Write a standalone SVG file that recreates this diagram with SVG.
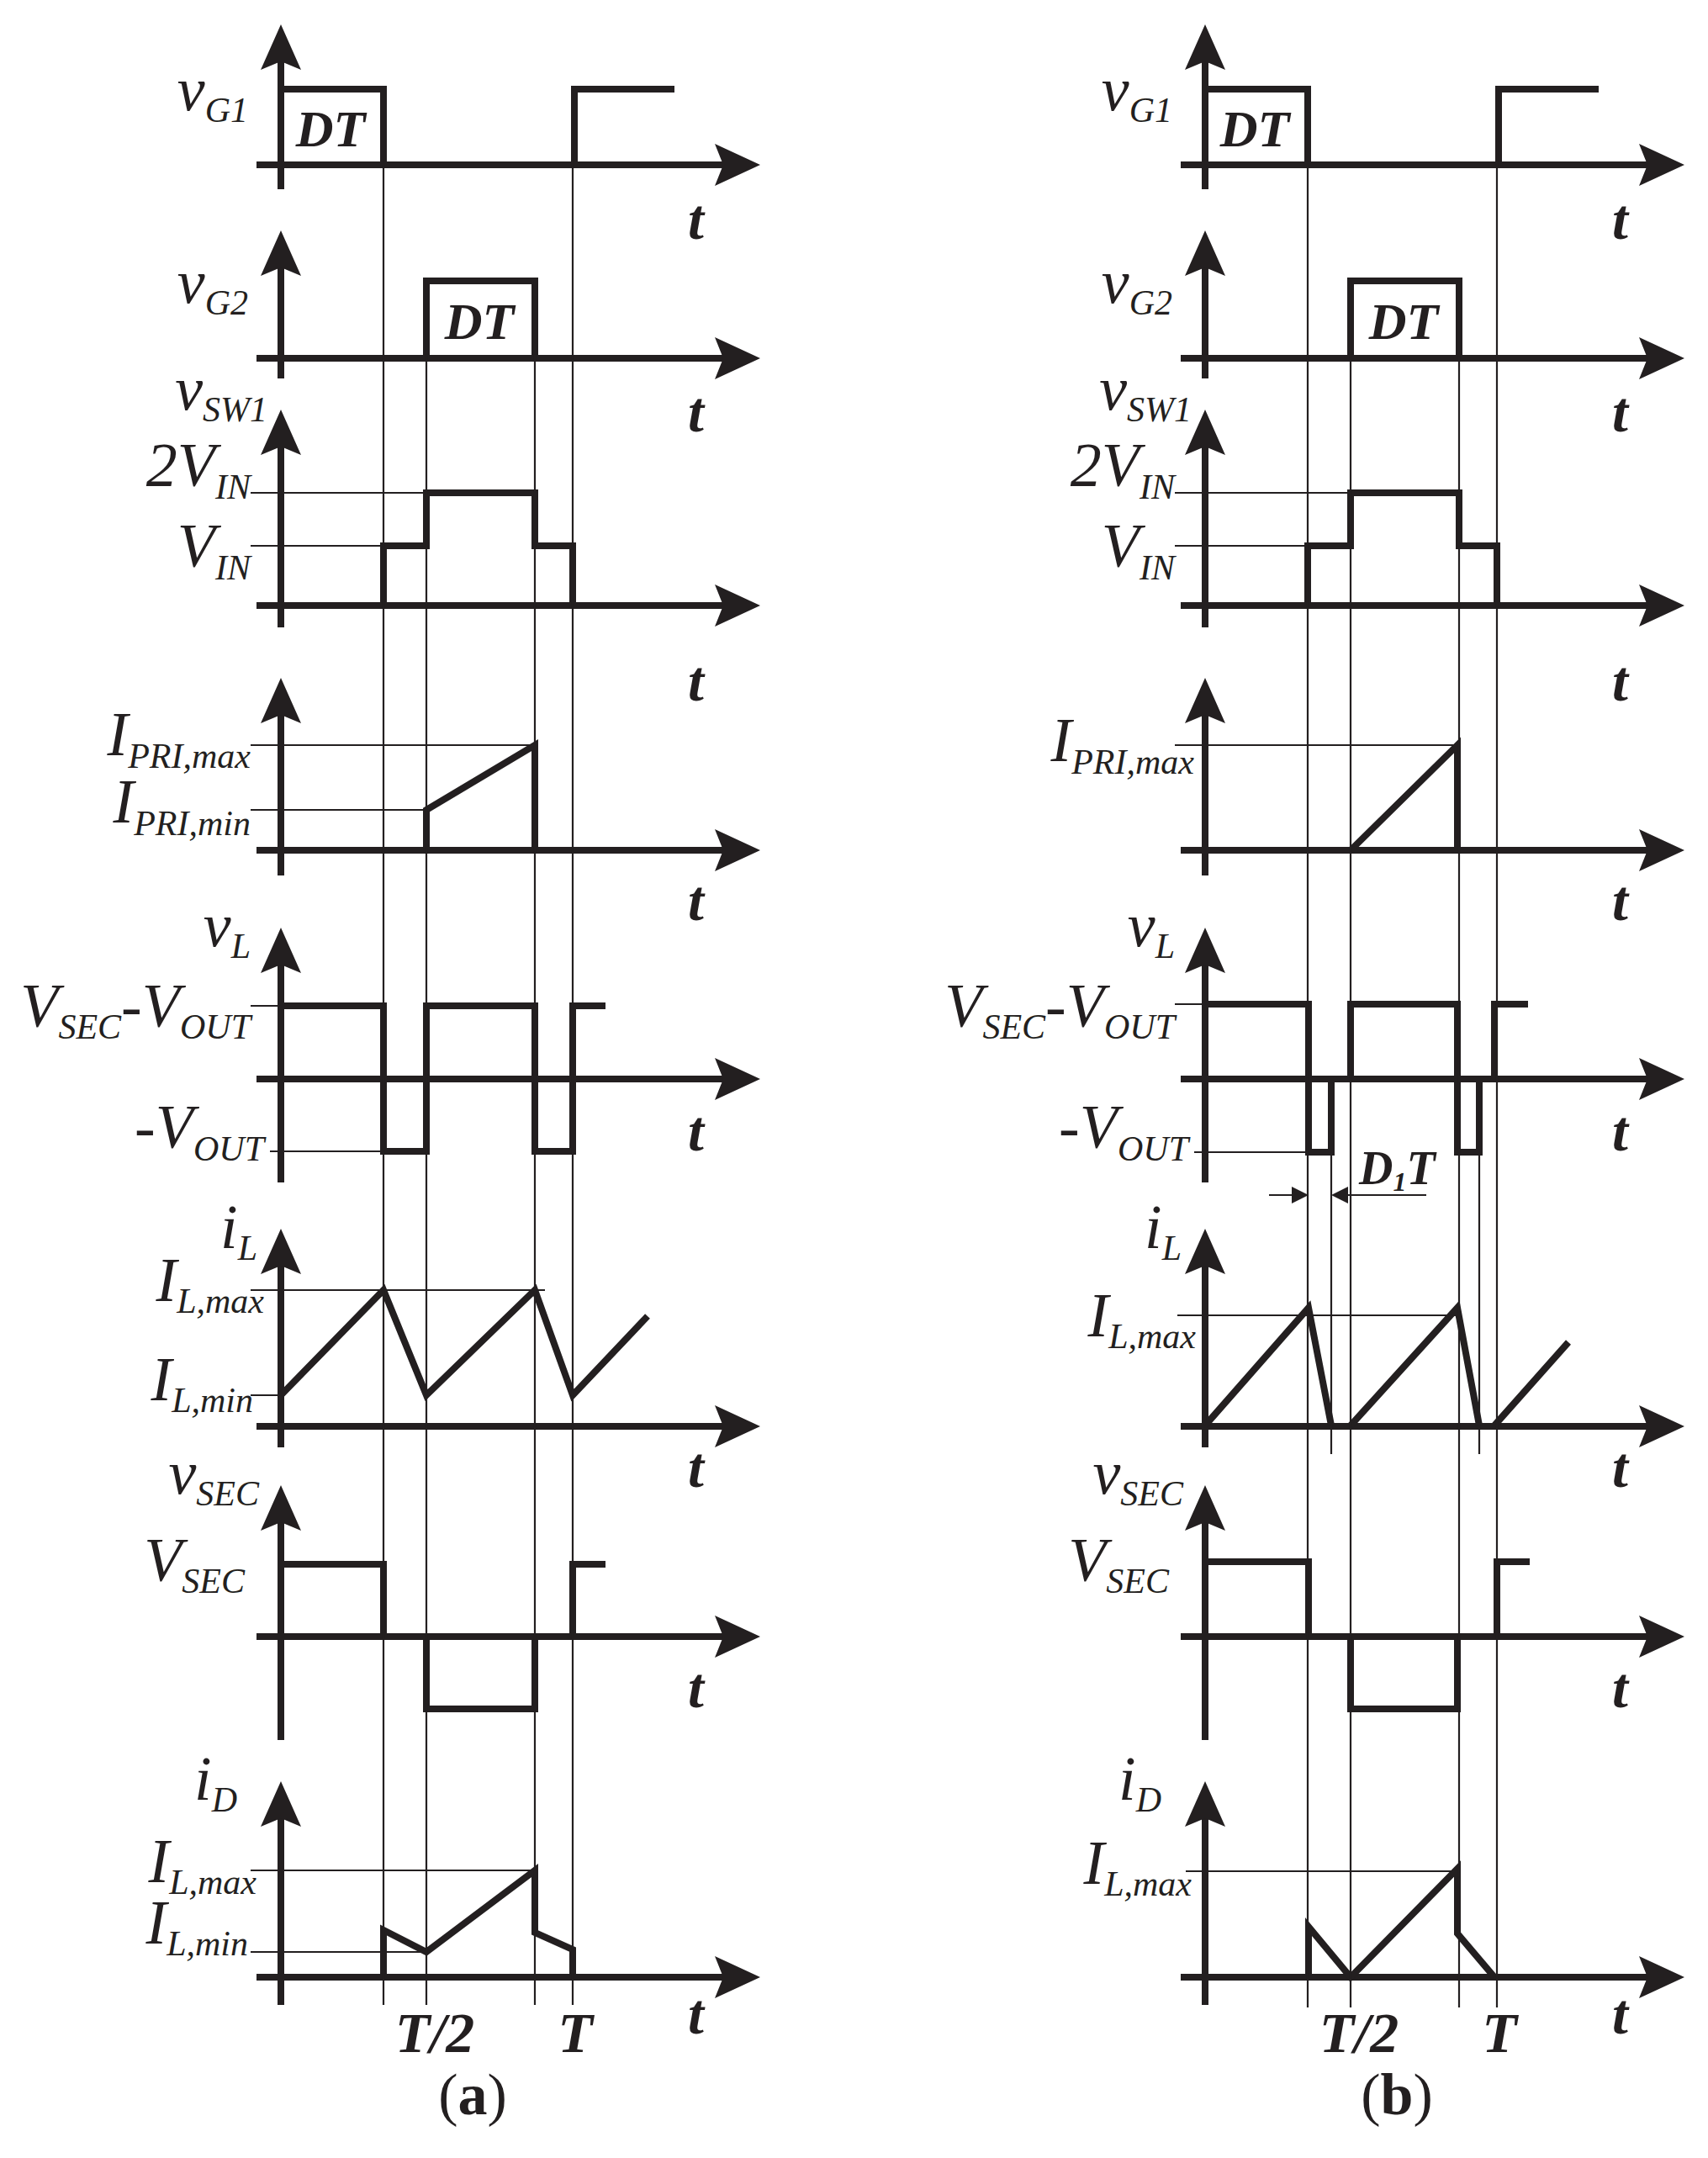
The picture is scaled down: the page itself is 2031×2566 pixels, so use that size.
<svg xmlns="http://www.w3.org/2000/svg" width="2031" height="2566" viewBox="0 0 2031 2566">
<style>
.ax{stroke:#231f20;stroke-width:8;fill:none}
.w{stroke:#231f20;stroke-width:8;fill:none;stroke-linejoin:miter}
.th{stroke:#231f20;stroke-width:2.2;fill:none}
.ah{fill:#231f20}
text{font-family:"Liberation Serif","Times New Roman",serif;fill:#231f20}
.lb{font-style:italic;font-size:74px;text-anchor:end}
.sb{font-size:42px}
.bt{font-style:italic;font-weight:bold}
.tt{font-style:italic;font-weight:bold;font-size:68px}
</style>
<defs>
<path id="ya" d="M0,0 L24,54 L0,44 L-24,54 Z"/>
<path id="xa" d="M0,0 L-54,-25 L-44,0 L-54,25 Z"/>
<g id="axes">
<g class="ax">
<path d="M334,225V70M305,196H860"/>
<path d="M334,450V315M305,426H860"/>
<path d="M334,746V528M305,720H860"/>
<path d="M334,1041V847M305,1011H860"/>
<path d="M334,1406V1144M305,1283H860"/>
<path d="M334,1721V1502M305,1696H860"/>
<path d="M334,2069V1807M305,1946H860"/>
<path d="M334,2384V2159M305,2351H860"/>
</g>
<g class="ah">
<use href="#ya" x="334" y="29"/><use href="#xa" x="904" y="196"/>
<use href="#ya" x="334" y="274"/><use href="#xa" x="904" y="426"/>
<use href="#ya" x="334" y="487"/><use href="#xa" x="904" y="720"/>
<use href="#ya" x="334" y="806"/><use href="#xa" x="904" y="1011"/>
<use href="#ya" x="334" y="1103"/><use href="#xa" x="904" y="1283"/>
<use href="#ya" x="334" y="1461"/><use href="#xa" x="904" y="1696"/>
<use href="#ya" x="334" y="1766"/><use href="#xa" x="904" y="1946"/>
<use href="#ya" x="334" y="2118"/><use href="#xa" x="904" y="2351"/>
</g>
<g class="tt">
<text x="818" y="284">t</text><text x="818" y="513">t</text><text x="818" y="833">t</text><text x="818" y="1094">t</text>
<text x="818" y="1368">t</text><text x="818" y="1768">t</text><text x="818" y="2030">t</text><text x="818" y="2418">t</text>
</g>
<g class="bt" font-size="62">
<text x="393" y="174" text-anchor="middle">DT</text>
<text x="570" y="403" text-anchor="middle">DT</text>
</g>
<g class="tt" text-anchor="middle" font-size="72">
<text x="517" y="2440">T/2</text><text x="684" y="2440">T</text>
</g>
<g class="lb">
<text x="295" y="131">v<tspan class="sb" dy="14">G1</tspan></text>
<text x="295" y="360">v<tspan class="sb" dy="14">G2</tspan></text>
<text x="318" y="487">v<tspan class="sb" dy="14">SW1</tspan></text>
<text x="298" y="578">2V<tspan class="sb" dy="15">IN</tspan></text>
<text x="298" y="674">V<tspan class="sb" dy="15">IN</tspan></text>
<text x="298" y="1125">v<tspan class="sb" dy="14">L</tspan></text>
<text x="298" y="1221">V<tspan class="sb" dy="14">SEC</tspan><tspan dy="-14">-V</tspan><tspan class="sb" dy="14">OUT</tspan></text>
<text x="314" y="1365">-V<tspan class="sb" dy="15">OUT</tspan></text>
<text x="306" y="1484">i<tspan class="sb" dy="14">L</tspan></text>
<text x="308" y="1776">v<tspan class="sb" dy="14">SEC</tspan></text>
<text x="291" y="1880">V<tspan class="sb" dy="14">SEC</tspan></text>
<text x="282" y="2140">i<tspan class="sb" dy="14">D</tspan></text>
</g>
</g>
</defs>

<g id="panel-a">
<use href="#axes"/>
<g id="a-waves" class="w">
<path d="M334,106H456V196"/>
<path d="M683,196V106H802"/>
<path d="M507,426V334H636V426"/>
<path d="M456,720V649H507V586H636V649H681V720"/>
<path d="M507,1011V963L636,886V1011"/>
<path d="M334,1196H456V1369H507V1196H636V1369H681V1196H720"/>
<path d="M334,1659L456,1534L507,1659L636,1534L681,1659L770,1565"/>
<path d="M334,1860H456V1946"/>
<path d="M507,1946V2032H636V1946"/>
<path d="M681,1946V1860H720"/>
<path d="M456,2351V2295L507,2321L636,2224V2298L681,2318V2351"/>
</g>
<g id="a-thin" class="th">
<path d="M456,196V2384M507,334V2384M636,334V2384M681,106V2384"/>
<path d="M298,586H507M298,649H456"/>
<path d="M298,886H636M298,963H507"/>
<path d="M298,1196H334M321,1369H456"/>
<path d="M298,1534H648M298,1659H334"/>
<path d="M298,2224H636M298,2321H507"/>
</g>
<g class="lb">
<text x="298" y="898">I<tspan class="sb" dy="15">PRI,max</tspan></text>
<text x="298" y="978">I<tspan class="sb" dy="15">PRI,min</tspan></text>
<text x="314" y="1547">I<tspan class="sb" dy="14">L,max</tspan></text>
<text x="301" y="1665">I<tspan class="sb" dy="14">L,min</tspan></text>
<text x="305" y="2238">I<tspan class="sb" dy="14">L,max</tspan></text>
<text x="295" y="2311">I<tspan class="sb" dy="14">L,min</tspan></text>
</g>
<text x="562" y="2514" font-size="70" text-anchor="middle">(<tspan font-weight="bold">a</tspan>)</text>
</g>

<g id="panel-b">
<use href="#axes" x="1099"/>
<g id="b-waves" class="w">
<path d="M1433,106H1555V196"/>
<path d="M1782,196V106H1901"/>
<path d="M1606,426V334H1735V426"/>
<path d="M1555,720V649H1606V586H1735V649H1780V720"/>
<path d="M1606,1011L1733,886V1011"/>
<path d="M1433,1194H1556V1370H1583V1283M1606,1283V1194H1733V1370H1759V1283M1777,1283V1194H1817"/>
<path d="M1433,1695L1556,1555L1583,1695M1606,1695L1733,1555L1759,1695M1777,1695L1865,1596"/>
<path d="M1433,1857H1556V1945"/>
<path d="M1606,1945V2032H1733V1945"/>
<path d="M1780,1945V1857H1819"/>
<path d="M1556,2351V2291L1606,2351L1733,2222V2299L1777,2351"/>
</g>
<g id="b-thin" class="th">
<path d="M1555,196V2387M1606,334V2387M1735,334V2387M1780,106V2387"/>
<path d="M1583,1370V1729M1759,1370V1729"/>
<path d="M1397,586H1606M1397,649H1555"/>
<path d="M1397,886H1733"/>
<path d="M1397,1194H1433M1420,1370H1556"/>
<path d="M1400,1564H1732"/>
<path d="M1410,2225H1733"/>
<path d="M1509,1421H1540M1599,1421H1696"/>
</g>
<g class="ah">
<path d="M1556,1421L1536,1411L1536,1431Z"/>
<path d="M1583,1421L1603,1411L1603,1431Z"/>
</g>
<g class="lb">
<text x="1420" y="905">I<tspan class="sb" dy="15">PRI,max</tspan></text>
<text x="1422" y="1589">I<tspan class="sb" dy="14">L,max</tspan></text>
<text x="1417" y="2240">I<tspan class="sb" dy="14">L,max</tspan></text>
</g>
<text x="1616" y="1408" class="bt" font-size="56">D<tspan font-size="32" dy="8">1</tspan><tspan dy="-8">T</tspan></text>
<text x="1661" y="2514" font-size="70" text-anchor="middle">(<tspan font-weight="bold">b</tspan>)</text>
</g>
</svg>
